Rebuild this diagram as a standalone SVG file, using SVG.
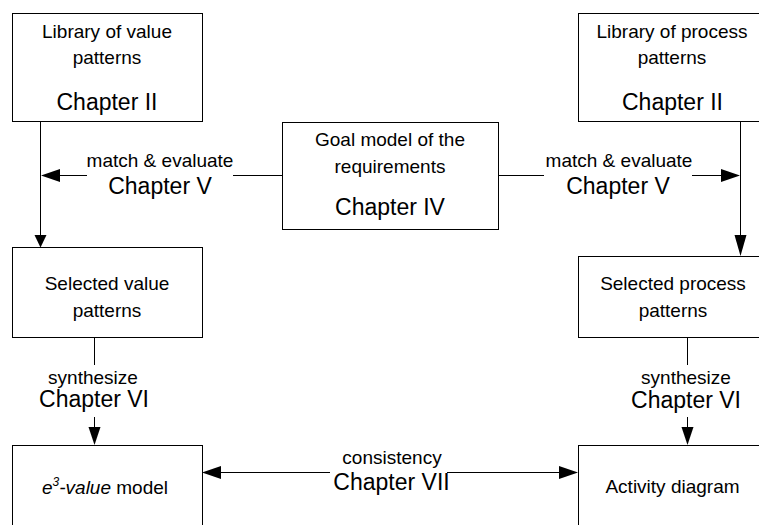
<svg xmlns="http://www.w3.org/2000/svg" width="759" height="525" viewBox="0 0 759 525">
  <style>
    .box { fill: #fff; stroke: #000; stroke-width: 1; }
    .line { fill: none; stroke: #000; stroke-width: 1; }
    .head { fill: #000; stroke: none; }
    text { font-family: "Liberation Sans", Arial, sans-serif; fill: #000; text-anchor: middle; }
    .s { font-size: 19px; }
    .c { font-size: 23px; }
  </style>
  <rect width="759" height="525" fill="#fff"/>

  <!-- connectors -->
  <g id="connectors">
    <!-- library of value patterns -> selected value patterns -->
    <path class="line" d="M40.5 121 V236"/>
    <polygon class="head" points="34.5,235 46.5,235 40.5,247.5"/>
    <!-- goal model -> left (match & evaluate) -->
    <path class="line" d="M282 175.5 H233 M87 175.5 H59"/>
    <polygon class="head" points="60,169 60,182 41,175.5"/>
    <!-- library of process patterns -> selected process patterns -->
    <path class="line" d="M740.5 121 V236"/>
    <polygon class="head" points="734.5,235 746.5,235 740.5,256"/>
    <!-- goal model -> right (match & evaluate) -->
    <path class="line" d="M498 175.5 H544 M692 175.5 H722"/>
    <polygon class="head" points="721,169 721,182 740,175.5"/>
    <!-- synthesize (left) -->
    <path class="line" d="M94.5 337 V365 M94.5 417 V428"/>
    <polygon class="head" points="88.5,427 100.5,427 94.5,445"/>
    <!-- synthesize (right) -->
    <path class="line" d="M687.5 337 V365 M687.5 417 V428"/>
    <polygon class="head" points="681.5,427 693.5,427 687.5,445"/>
    <!-- consistency (two-way) -->
    <path class="line" d="M220 472.5 H330 M447 472.5 H560"/>
    <polygon class="head" points="221,466 221,479 202,472.5"/>
    <polygon class="head" points="559,466 559,479 578,472.5"/>
  </g>

  <!-- connector labels -->
  <g id="label-match-left">
    <text class="s" x="160" y="167">match &amp; evaluate</text>
    <text class="c" x="160" y="194">Chapter V</text>
  </g>
  <g id="label-match-right">
    <text class="s" x="619" y="167">match &amp; evaluate</text>
    <text class="c" x="618" y="194">Chapter V</text>
  </g>
  <g id="label-synth-left">
    <text class="s" x="93" y="384">synthesize</text>
    <text class="c" x="94" y="407">Chapter VI</text>
  </g>
  <g id="label-synth-right">
    <text class="s" x="686" y="384">synthesize</text>
    <text class="c" x="686" y="408">Chapter VI</text>
  </g>
  <g id="label-consistency">
    <text class="s" x="392" y="464">consistency</text>
    <text class="c" x="391.5" y="490">Chapter VII</text>
  </g>

  <!-- nodes -->
  <g id="lib-value">
    <rect class="box" x="12.5" y="13.5" width="190" height="108"/>
    <text class="s" x="107" y="38">Library of value</text>
    <text class="s" x="107" y="64">patterns</text>
    <text class="c" x="107" y="110">Chapter II</text>
  </g>
  <g id="lib-process">
    <rect class="box" x="578.5" y="13.5" width="190" height="108"/>
    <text class="s" x="672" y="38">Library of process</text>
    <text class="s" x="672" y="64">patterns</text>
    <text class="c" x="672.5" y="110">Chapter II</text>
  </g>
  <g id="goal-model">
    <rect class="box" x="282.5" y="122.5" width="216" height="107"/>
    <text class="s" x="390" y="146">Goal model of the</text>
    <text class="s" x="390" y="173">requirements</text>
    <text class="c" x="390" y="215">Chapter IV</text>
  </g>
  <g id="sel-value">
    <rect class="box" x="12.5" y="247.5" width="190" height="90"/>
    <text class="s" x="107" y="290">Selected value</text>
    <text class="s" x="107" y="317">patterns</text>
  </g>
  <g id="sel-process">
    <rect class="box" x="578.5" y="256.5" width="190" height="81"/>
    <text class="s" x="673" y="290">Selected process</text>
    <text class="s" x="673" y="317">patterns</text>
  </g>
  <g id="e3value-model">
    <rect class="box" x="12.5" y="445.5" width="190" height="100"/>
    <text class="s" x="105" y="494"><tspan font-style="italic">e</tspan><tspan font-size="12" dy="-8" font-style="italic">3</tspan><tspan dy="8" font-style="italic">-value</tspan> model</text>
  </g>
  <g id="activity-diagram">
    <rect class="box" x="578.5" y="445.5" width="190" height="100"/>
    <text class="s" x="672.5" y="493">Activity diagram</text>
  </g>
</svg>
